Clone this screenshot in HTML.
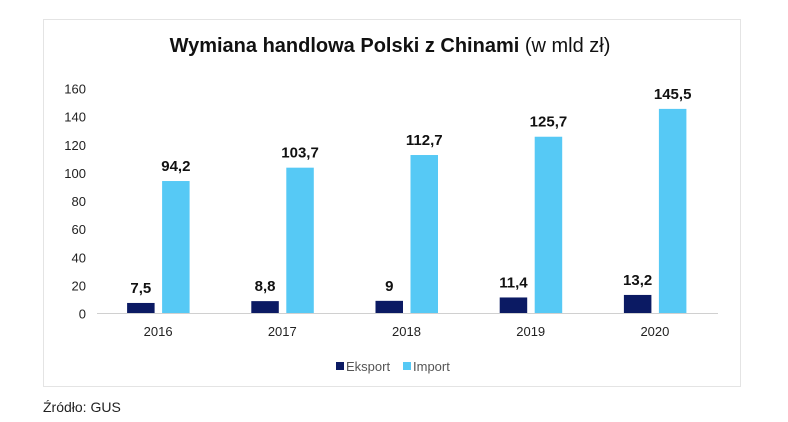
<!DOCTYPE html>
<html><head><meta charset="utf-8"><style>
body{margin:0;background:#fff;}
svg{display:block;font-family:"Liberation Sans",Arial,sans-serif;}
</style></head><body>
<svg width="788" height="422">
<rect x="43.5" y="19.5" width="697" height="367" fill="#fff" stroke="#e4e4e4"/>
<text x="390" y="52" text-anchor="middle" font-size="20" fill="#111"><tspan font-weight="bold">Wymiana handlowa Polski z Chinami</tspan> (w mld zł)</text>
<g id="yaxis"></g>
<g id="bars"></g>
<line x1="97" y1="313.5" x2="718" y2="313.5" stroke="#d0d0d0"/>
<g id="xaxis"></g>
<g>
<rect x="336" y="362" width="8" height="8" fill="#0b1a63"/>
<text x="346" y="371" font-size="13" fill="#555">Eksport</text>
<rect x="403" y="362" width="8" height="8" fill="#56c9f5"/>
<text x="413" y="371" font-size="13" fill="#555">Import</text>
</g>
<text x="43" y="412" font-size="14" fill="#222">Źródło: GUS</text>
</svg>
<script>
const categories=["2016","2017","2018","2019","2020"];
const eksport=[7.5,8.8,9,11.4,13.2];
const importV=[94.2,103.7,112.7,125.7,145.5];
const eksportLabels=["7,5","8,8","9","11,4","13,2"];
const importLabels=["94,2","103,7","112,7","125,7","145,5"];
const yTicks=[0,20,40,60,80,100,120,140,160];
const NS="http://www.w3.org/2000/svg";
const x0=97,x1=718,y0=313.5,yTop=88.5,yMax=160;
const band=(x1-x0)/categories.length;
function y(v){return y0-(v/yMax)*(y0-yTop);}
function cx(i){return x0+band*(i+0.5)-1;}
function mk(tag,attrs,parent){const e=document.createElementNS(NS,tag);for(const k in attrs)e.setAttribute(k,attrs[k]);parent.appendChild(e);return e;}
const ya=document.getElementById('yaxis'),bars=document.getElementById('bars'),xa=document.getElementById('xaxis');
yTicks.forEach(t=>{const e=mk('text',{x:86,y:y(t)+5,'text-anchor':'end','font-size':13,fill:'#222'},ya);e.textContent=t;

});
categories.forEach((c,i)=>{
const c0=cx(i),w=27.5;
const r1=mk('rect',{x:c0-31,y:y(eksport[i]),width:w,height:y0-y(eksport[i]),fill:'#0b1a63'},bars);


const r2=mk('rect',{x:c0+4,y:y(importV[i]),width:w,height:y0-y(importV[i]),fill:'#56c9f5'},bars);


const l1=mk('text',{x:c0-31+w/2,y:y(eksport[i])-10,'text-anchor':'middle','font-size':15,'font-weight':'bold',fill:'#111'},bars);l1.textContent=eksportLabels[i];


const l2=mk('text',{x:c0+4+w/2,y:y(importV[i])-10,'text-anchor':'middle','font-size':15,'font-weight':'bold',fill:'#111'},bars);l2.textContent=importLabels[i];


const xt=mk('text',{x:c0,y:336,'text-anchor':'middle','font-size':13,fill:'#222'},xa);xt.textContent=c;


});
</script>
</body></html>
